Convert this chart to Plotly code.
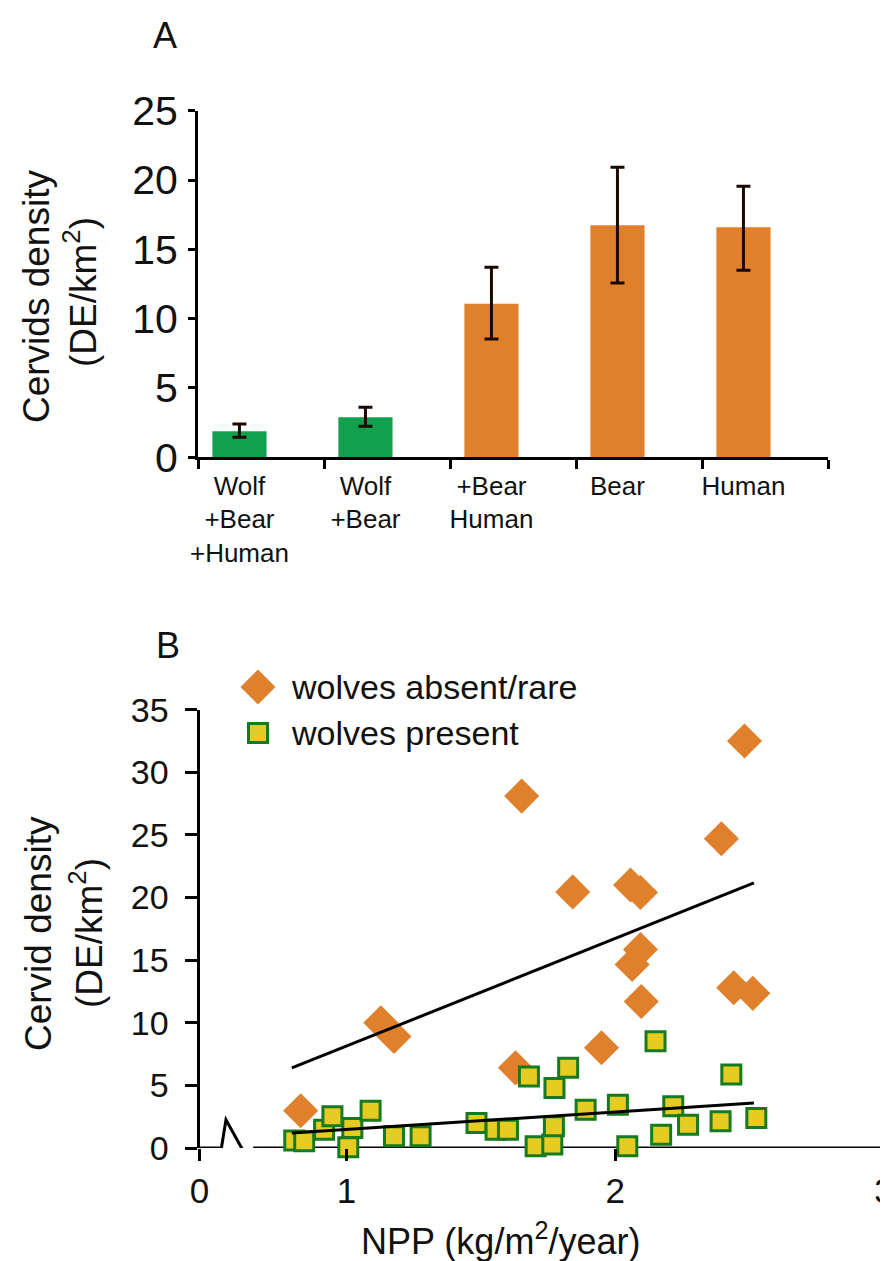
import plotly.graph_objects as go

W, H = 888, 1261

# ---------------- Panel A data ----------------
a_categories = ["Wolf<br>+Bear<br>+Human", "Wolf<br>+Bear", "+Bear<br>Human", "Bear", "Human"]
a_density = [1.88, 2.89, 11.08, 16.74, 16.59]
a_err_plus = [0.52, 0.72, 2.63, 4.18, 2.96]
a_err_minus = [0.44, 0.65, 2.54, 4.16, 3.10]
a_colors = ["#12A04E", "#12A04E", "#E0802C", "#E0802C", "#E0802C"]
a_yticks = [0, 5, 10, 15, 20, 25]

# ---------------- Panel B data ----------------
absent_npp = [0.830, 1.128, 1.177, 1.629, 1.652, 1.842, 1.949, 2.057, 2.094, 2.094,
              2.063, 2.097, 2.395, 2.441, 2.481, 2.512]
absent_density = [2.98, 10.0, 8.9, 6.4, 28.1, 20.45, 8.0, 21.0, 20.4, 15.85,
                  14.65, 11.7, 24.7, 12.8, 32.5, 12.35]

present_npp = [0.806, 0.843, 0.917, 0.948, 1.022, 1.007, 1.090, 1.177, 1.276, 1.484,
               1.555, 1.601, 1.679, 1.704, 1.766, 1.772, 1.774, 1.825, 1.890, 2.010,
               2.045, 2.150, 2.171, 2.216, 2.271, 2.392, 2.432, 2.525]
present_density = [0.59, 0.53, 1.46, 2.53, 1.60, 0.05, 2.98, 0.93, 0.93, 2.0,
                   1.46, 1.46, 5.7, 0.13, 0.27, 1.73, 4.8, 6.4, 3.06, 3.46,
                   0.13, 8.52, 1.06, 3.33, 1.86, 2.13, 5.86, 2.40]

fit_npp = [0.797, 2.516]
fit_absent = [6.39, 21.17]
fit_present = [1.20, 3.59]

b_xtickvals = [0.4535, 1, 2, 3]
b_xticktext = ["0", "1", "2", "3"]
b_yticks = [0, 5, 10, 15, 20, 25, 30, 35]

ORANGE = "#E0802C"
SQ_FILL = "#E6CC22"
SQ_LINE = "#177A1F"
TXT = "#111111"
FONT = "Liberation Sans, Arial, sans-serif"

# bar positions (indices) and category boundary ticks (bars sit left of cell centre)
a_x = list(range(len(a_categories)))
A_SHIFT = 0.329
a_bounds = [k - A_SHIFT for k in range(len(a_categories) + 1)]


def px(x):
    return x / W


def py(y):
    return 1 - y / H


fig = go.Figure()

fig.add_trace(go.Bar(
    x=a_x, y=a_density, width=0.43,
    marker=dict(color=a_colors, line=dict(width=0)),
    error_y=dict(type="data", symmetric=False, array=a_err_plus, arrayminus=a_err_minus,
                 color="#1A0A00", thickness=3, width=7),
    xaxis="x", yaxis="y", showlegend=False,
))

fig.add_trace(go.Scatter(
    x=absent_npp, y=absent_density, mode="markers",
    marker=dict(symbol="diamond", size=27, color=ORANGE, line=dict(width=0)),
    xaxis="x2", yaxis="y2", cliponaxis=False, showlegend=False,
))
fig.add_trace(go.Scatter(
    x=present_npp, y=present_density, mode="markers",
    marker=dict(symbol="square", size=19, color=SQ_FILL, line=dict(width=3, color=SQ_LINE)),
    xaxis="x2", yaxis="y2", cliponaxis=False, showlegend=False,
))
fig.add_trace(go.Scatter(
    x=fit_npp, y=fit_absent, mode="lines", line=dict(color="black", width=3),
    xaxis="x2", yaxis="y2", cliponaxis=False, showlegend=False,
))
fig.add_trace(go.Scatter(
    x=fit_npp, y=fit_present, mode="lines", line=dict(color="black", width=3),
    xaxis="x2", yaxis="y2", cliponaxis=False, showlegend=False,
))

axis_common = dict(showgrid=False, zeroline=False, linecolor="black", linewidth=3,
                   tickcolor="black", tickwidth=3, automargin=False)

fig.update_layout(
    width=W, height=H, autosize=False,
    margin=dict(l=0, r=0, t=0, b=0),
    paper_bgcolor="white", plot_bgcolor="white",
    font=dict(family=FONT, color=TXT),
    xaxis=dict(domain=[px(190), px(820)], anchor="y",
               range=[a_bounds[0], a_bounds[-1]],
               tickmode="array", tickvals=a_x, ticktext=a_categories, ticks="",
               ticklabelstandoff=3,
               minor=dict(tickmode="array", tickvals=a_bounds, ticks="outside",
                          ticklen=9, tickwidth=3, tickcolor="black", showgrid=False),
               showline=True,
               tickfont=dict(family=FONT, size=26, color=TXT), **axis_common),
    yaxis=dict(domain=[py(449.3), py(102.7)], anchor="x", range=[0, 25],
               tickvals=a_yticks, ticks="outside", ticklen=7, showline=True,
               ticklabelstandoff=2,
               tickfont=dict(family=FONT, size=41, color=TXT), **axis_common),
    xaxis2=dict(domain=[px(191.5), px(876)], anchor="y2", range=[0.4535, 3.0],
                tickvals=b_xtickvals, ticktext=b_xticktext, ticks="outside",
                ticklen=12, showline=False,
                tickfont=dict(family=FONT, size=35, color=TXT), **axis_common),
    yaxis2=dict(domain=[py(1140), py(701.7)], anchor="x2", range=[0, 35],
                tickvals=b_yticks, ticks="outside", ticklen=12, showline=True,
                ticklabelstandoff=9,
                tickfont=dict(family=FONT, size=34, color=TXT), **axis_common),
)

# broken x-axis of panel B
fig.add_shape(type="path", xref="x2", yref="y2", layer="below",
              path="M 0.4535 0 L 0.535 0 L 0.552 2.26 L 0.637 -1.04 L 0.658 0 L 3 0",
              line=dict(color="black", width=3))

# manual legend symbols
dcx, dcy, dr = 250, 679, 17.5
fig.add_shape(type="path", xref="paper", yref="paper", layer="above",
              path=f"M {px(dcx-dr)} {py(dcy)} L {px(dcx)} {py(dcy-dr)} L {px(dcx+dr)} {py(dcy)} L {px(dcx)} {py(dcy+dr)} Z",
              fillcolor=ORANGE, line=dict(width=0))
scx, scy, sr = 250, 725, 9.5
fig.add_shape(type="rect", xref="paper", yref="paper", layer="above",
              x0=px(scx-sr), x1=px(scx+sr), y0=py(scy+sr), y1=py(scy-sr),
              fillcolor=SQ_FILL, line=dict(width=3, color=SQ_LINE))

ann = [
    dict(text="A", x=px(157), y=py(27), size=36),
    dict(text="B", x=px(160), y=py(637), size=36),
    dict(text="Cervids density", x=px(29), y=py(289), size=37, angle=-90),
    dict(text="(DE/km<sup>2</sup>)", x=px(73), y=py(284), size=37, angle=-90),
    dict(text="Cervid density", x=px(31), y=py(926), size=37, angle=-90),
    dict(text="(DE/km<sup>2</sup>)", x=px(79), y=py(925), size=37, angle=-90),
    dict(text="NPP (kg/m<sup>2</sup>/year)", x=px(492), y=py(1231), size=36),
    dict(text="wolves absent/rare", x=px(281), y=py(679), size=34, xanchor="left"),
    dict(text="wolves present", x=px(281), y=py(725), size=34, xanchor="left"),
]
for a in ann:
    fig.add_annotation(text=a["text"], x=a["x"], y=a["y"], xref="paper", yref="paper",
                       showarrow=False, xanchor=a.get("xanchor", "center"), yanchor="middle",
                       textangle=a.get("angle", 0),
                       font=dict(family=FONT, size=a["size"], color=TXT))

fig.write_html("out.html")
